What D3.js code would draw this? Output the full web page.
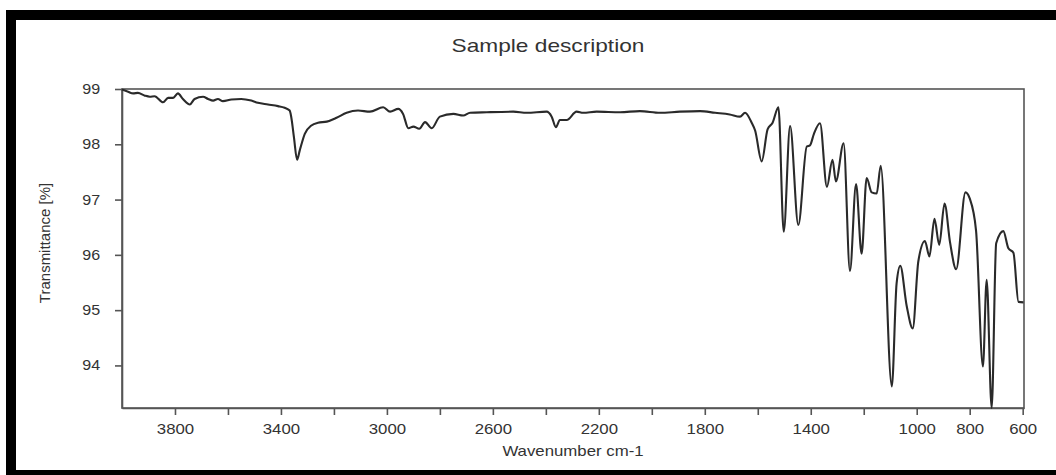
<!DOCTYPE html>
<html lang="en">
<head>
    <meta charset="UTF-8">
    <title>Sample description</title>
    <script src="https://cdn.jsdelivr.net/npm/d3@7"></script>
    <style>
        body {
            margin: 0;
            background: #fff;
        }
        #chart {
            width: 1056px;
            height: 475px;
        }
        text {
            font-family: "Liberation Sans", Arial, sans-serif;
            fill: #333;
        }
    </style>
</head>
<body>
<div id="chart"></div>
<script type="text/javascript">
    // spectrum (wavenumber cm-1, transmittance %)
    var wavenumber = [
        4000, 3977, 3958, 3940, 3914, 3895, 3877, 3845, 3826, 3807, 3789, 3770, 3744, 3726, 3694,
        3675, 3656, 3638, 3619, 3587, 3550, 3512, 3487, 3449, 3411, 3386, 3367, 3361, 3351, 3339,
        3329, 3310, 3285, 3260, 3227, 3190, 3152, 3109, 3064, 3014, 2988, 2957, 2939, 2919, 2900,
        2878, 2856, 2831, 2800, 2749, 2712, 2686, 2623, 2523, 2472, 2397, 2378, 2362, 2347, 2321,
        2284, 2259, 2208, 2120, 2045, 1969, 1894, 1818, 1761, 1706, 1667, 1648, 1623, 1610, 1585,
        1563, 1544, 1522, 1502, 1478, 1447, 1415, 1403, 1388, 1365, 1339, 1318, 1305, 1276, 1252,
        1229, 1208, 1189, 1170, 1151, 1136, 1094, 1076, 1062, 1038, 1015, 994, 969, 952, 933,
        915, 895, 874, 851, 816, 800, 776, 750, 736, 717, 700, 673, 654, 635, 616, 597
    ];
    var transmittance = [
        98.99, 98.95, 98.92, 98.93, 98.88, 98.86, 98.87, 98.76, 98.84, 98.84, 98.92, 98.82, 98.72, 98.82, 98.86,
        98.82, 98.79, 98.82, 98.78, 98.81, 98.82, 98.79, 98.75, 98.72, 98.69, 98.66, 98.61, 98.49, 98.13, 97.72,
        97.89, 98.19, 98.34, 98.39, 98.41, 98.48, 98.57, 98.61, 98.59, 98.67, 98.59, 98.64, 98.55, 98.29, 98.32,
        98.28, 98.40, 98.29, 98.50, 98.55, 98.52, 98.57, 98.58, 98.59, 98.57, 98.59, 98.50, 98.31, 98.44, 98.44,
        98.59, 98.57, 98.59, 98.58, 98.60, 98.57, 98.59, 98.60, 98.57, 98.54, 98.50, 98.57, 98.39, 98.25, 97.69,
        98.27, 98.39, 98.67, 96.42, 98.33, 96.54, 97.96, 97.98, 98.19, 98.38, 97.23, 97.72, 97.33, 98.02, 95.71,
        97.28, 96.02, 97.39, 97.13, 97.11, 97.61, 93.62, 95.48, 95.80, 95.08, 94.67, 95.88, 96.25, 95.97, 96.65,
        96.18, 96.93, 96.22, 95.74, 97.13, 97.02, 96.44, 93.98, 95.55, 93.23, 96.21, 96.43, 96.12, 96.04, 95.15, 95.14
    ];
    var xTickValues = [3800, 3600, 3400, 3200, 3000, 2800, 2600, 2400, 2200, 2000, 1800, 1600, 1400, 1200, 1000, 800, 600];
    var xTickLabels = ['3800', '', '3400', '', '3000', '', '2600', '', '2200', '', '1800', '', '1400', '', '1000', '800', '600'];
    var yTickValues = [94, 95, 96, 97, 98, 99];

    var svgw = 1056;
    var svgh = 475;
    var plotLeft = 122, plotRight = 1024, plotTop = 89, plotBottom = 408;

    var svg = d3.select('#chart')
        .append('svg')
        .attr('width', svgw)
        .attr('height', svgh);

    // black picture frame
    svg.append('rect')
        .attr('x', 11)
        .attr('y', 15)
        .attr('width', 1100)
        .attr('height', 460)
        .attr('fill', '#fff')
        .attr('stroke', '#000')
        .attr('stroke-width', 10);

    var x_scale = d3.scaleLinear()
        .domain([4000, 595])
        .range([plotLeft, plotRight]);

    var y_scale = d3.scaleLinear()
        .domain([93.23, 99])
        .range([plotBottom, plotTop]);

    // box
    svg.append('rect')
        .attr('x', plotLeft)
        .attr('y', plotTop)
        .attr('width', plotRight - plotLeft)
        .attr('height', plotBottom - plotTop)
        .attr('fill', 'none')
        .attr('stroke', '#555')
        .attr('stroke-width', 1.6);

    var x_axis = d3.axisBottom(x_scale)
        .tickValues(xTickValues)
        .tickFormat(function (d, i) {
            return xTickLabels[i];
        })
        .tickSize(7)
        .tickSizeOuter(0)
        .tickPadding(9);
    var gx = svg.append('g')
        .attr('transform', 'translate(0,' + plotBottom + ')')
        .call(x_axis);

    var y_axis = d3.axisLeft(y_scale)
        .tickValues(yTickValues)
        .tickFormat(d3.format('d'))
        .tickSize(7)
        .tickSizeOuter(0)
        .tickPadding(12);
    var gy = svg.append('g')
        .attr('transform', 'translate(' + plotLeft + ',0)')
        .call(y_axis);

    [gx, gy].forEach(function (g) {
        g.select('.domain').attr('stroke', '#555').attr('stroke-width', 1.6);
        g.selectAll('.tick line').attr('stroke', '#555').attr('stroke-width', 1.6);
        g.selectAll('.tick text')
            .attr('font-size', 14)
            .attr('font-family', '"Liberation Sans", Arial, sans-serif')
            .attr('fill', '#333');
    });
    gx.selectAll('.tick text').attr('transform', 'scale(1.2,1)');
    gy.selectAll('.tick text').attr('transform', 'scale(1.15,1)');

    var line = d3.line()
        .x(function (d) { return x_scale(d[0]); })
        .y(function (d) { return y_scale(d[1]); })
        .curve(d3.curveMonotoneX);

    svg.append('path')
        .datum(wavenumber.map(function (w, i) { return [w, transmittance[i]]; }))
        .attr('d', line)
        .attr('fill', 'none')
        .attr('stroke', '#2a2a2a')
        .attr('stroke-width', 2.1)
        .attr('stroke-linejoin', 'round');

    // title and axis labels
    svg.append('text')
        .attr('transform', 'translate(548,52) scale(1.26,1)')
        .attr('text-anchor', 'middle')
        .attr('font-size', 18)
        .text('Sample description');

    svg.append('text')
        .attr('transform', 'translate(573,456) scale(1.2,1)')
        .attr('text-anchor', 'middle')
        .attr('font-size', 14)
        .text('Wavenumber cm-1');

    svg.append('text')
        .attr('transform', 'translate(50,243) rotate(-90)')
        .attr('text-anchor', 'middle')
        .attr('font-size', 15)
        .text('Transmittance [%]');
</script>
</body>
</html>
